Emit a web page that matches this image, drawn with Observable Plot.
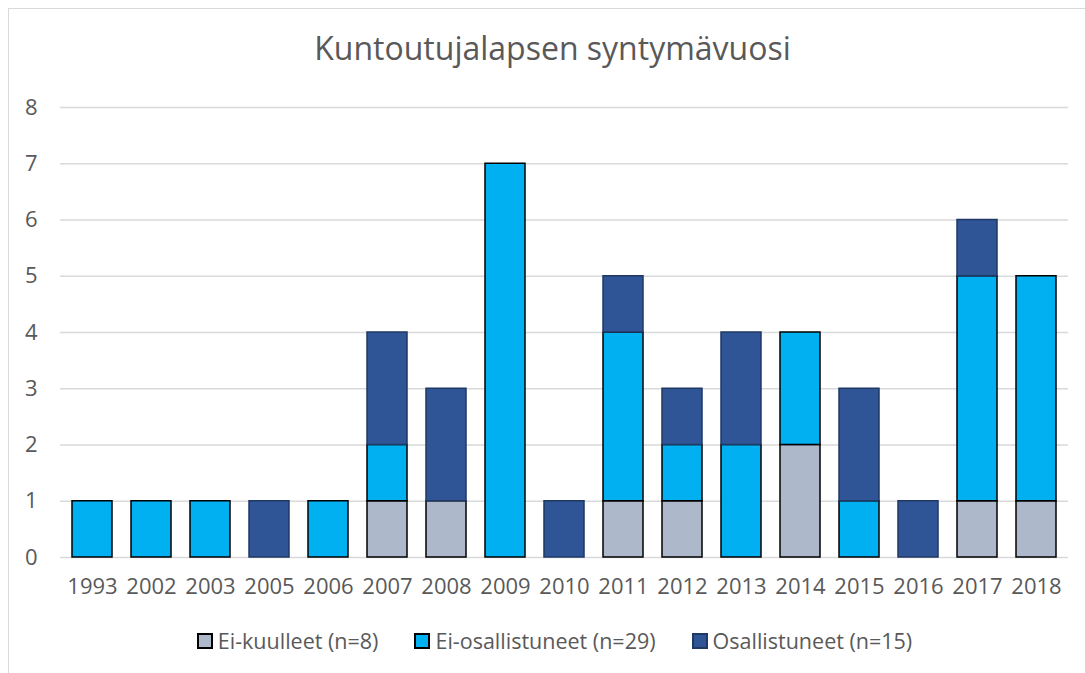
<!DOCTYPE html>
<html>
<head>
<meta charset="utf-8">
<script src="https://cdn.jsdelivr.net/npm/d3@7"></script>
<script src="https://cdn.jsdelivr.net/npm/@observablehq/plot@0.6"></script>
<style>
  html, body { margin: 0; padding: 0; background: #fff; }
  #wrap { position: relative; width: 1085px; height: 673px; overflow: hidden; font-family: "Open Sans", sans-serif; }
  #frame { position: absolute; left: 8px; top: 8px; width: 1100px; height: 700px; border: 1.5px solid #d9d9d9; box-sizing: border-box; }
  #title { position: absolute; left: 10px; width: 1085px; top: 26px; text-align: center; font-size: 32px; color: #595959; }
  #chart { position: absolute; left: 0; top: 0; }
  #legend { position: absolute; top: 626px; left: 12px; width: 1085px; display: flex; justify-content: center; gap: 36px; font-size: 21.5px; color: #595959; }
  .item { display: flex; align-items: center; gap: 5px; }
  .sw { width: 12px; height: 12px; border: 2px solid #000; }
</style>
</head>
<body>
<div id="wrap">
  <div id="frame"></div>
  <div id="title">Kuntoutujalapsen syntymävuosi</div>
  <div id="chart"></div>
  <div id="legend"></div>
</div>
<script>
const years = ["1993","2002","2003","2005","2006","2007","2008","2009","2010","2011","2012","2013","2014","2015","2016","2017","2018"];
const seriesNames = ["Ei-kuulleet (n=8)", "Ei-osallistuneet (n=29)", "Osallistuneet (n=15)"];
const eiKuulleet      = [0,0,0,0,0,1,1,0,0,1,1,0,2,0,0,1,1];
const eiOsallistuneet = [1,1,1,0,1,1,0,7,0,3,1,2,2,1,0,4,4];
const osallistuneet   = [0,0,0,1,0,2,2,0,1,1,1,2,0,2,1,1,0];
const yTicks = [0,1,2,3,4,5,6,7,8];

const fills = ["#ADB9CA", "#00B0F0", "#2F5597"];
const strokes = ["#000000", "#000000", "#1F3864"];

const seriesValues = [eiKuulleet, eiOsallistuneet, osallistuneet];
const data = [];
seriesNames.forEach((s, si) => {
  years.forEach((y, i) => {
    data.push({year: y, series: s, si, value: seriesValues[si][i]});
  });
});

const plot = Plot.plot({
  width: 1085,
  height: 620,
  marginTop: 107,
  marginBottom: 63,
  marginLeft: 60,
  marginRight: 17,
  style: {fontFamily: "Open Sans, sans-serif", color: "#595959", background: "transparent"},
  x: {domain: years, paddingInner: 0.325, paddingOuter: 0.1625, label: null},
  y: {domain: [0, 8], label: null},
  color: {type: "identity"},
  marks: [
    Plot.ruleY(yTicks, {stroke: "#d9d9d9", strokeWidth: 1.5}),
    Plot.barY(data.filter(d => d.value > 0), {
      x: "year", y: "value",
      fill: d => fills[d.si],
      stroke: d => strokes[d.si],
      strokeWidth: 1.5,
      z: "series"
    }),
    Plot.axisX({tickSize: 0, tickPadding: 21, fontSize: 22, fill: "#595959"}),
    Plot.axisY({ticks: yTicks, tickSize: 0, tickPadding: 23, fontSize: 22, fill: "#595959", tickFormat: d => String(d)})
  ]
});
document.getElementById("chart").appendChild(plot);

const legend = document.getElementById("legend");
seriesNames.forEach((s, i) => {
  const it = document.createElement("div");
  it.className = "item";
  const sw = document.createElement("div");
  sw.className = "sw";
  sw.style.background = fills[i];
  sw.style.borderColor = i === 2 ? strokes[i] : "#000";
  const t = document.createElement("span");
  t.textContent = s;
  it.appendChild(sw);
  it.appendChild(t);
  legend.appendChild(it);
});
</script>
</body>
</html>
